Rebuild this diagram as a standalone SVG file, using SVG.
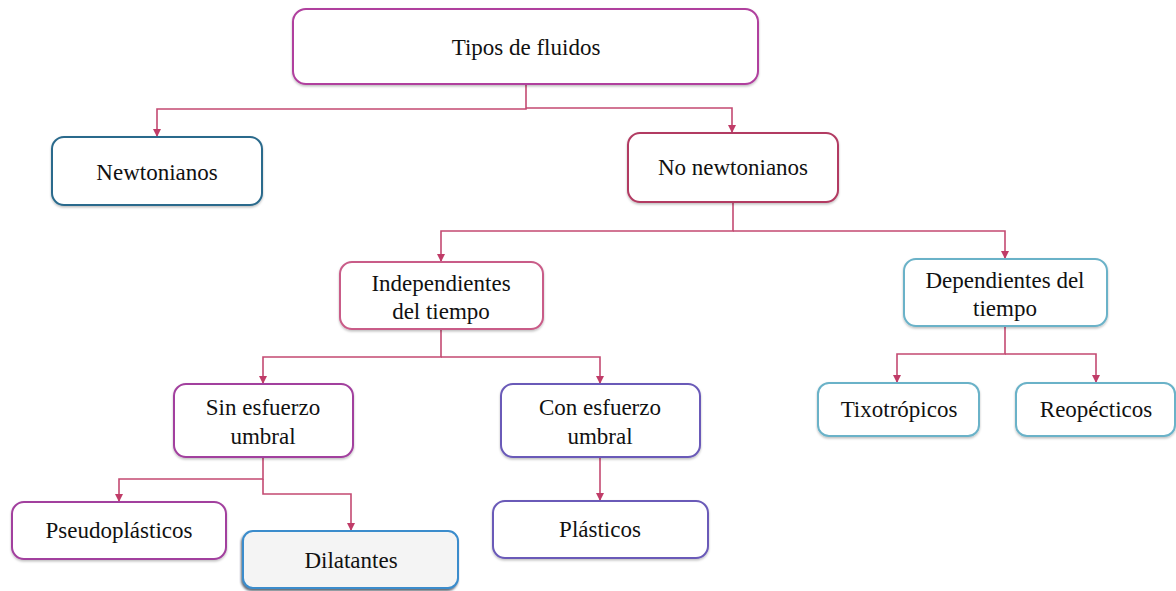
<svg xmlns="http://www.w3.org/2000/svg" width="1176" height="591" viewBox="0 0 1176 591">
<defs>
<marker id="ah" markerWidth="8" markerHeight="8" refX="7" refY="4" orient="auto" markerUnits="userSpaceOnUse">
<path d="M0,0 L8,4 L0,8 Z" fill="#c03c68"/>
</marker>
<filter id="sh" x="-10%" y="-10%" width="120%" height="130%">
<feDropShadow dx="0" dy="1.5" stdDeviation="1.2" flood-color="#000" flood-opacity="0.25"/>
</filter>
<filter id="sh2" x="-10%" y="-10%" width="120%" height="130%">
<feDropShadow dx="-1" dy="2" stdDeviation="1" flood-color="#1a2a3a" flood-opacity="0.7"/>
</filter>
<style>
text{font-family:"Liberation Serif","Times New Roman",serif;font-size:23px;fill:#111;text-anchor:middle}
rect{fill:#fff;stroke-width:2}
.con path{fill:none;stroke:#c44a72;stroke-width:1.6}
.con .a{marker-end:url(#ah)}
</style>
</defs>
<g class="con">
<path d="M526,84 V109 H157 V136" class="a"/>
<path d="M526,108 H732 V132" class="a"/>
<path d="M733,202 V231 H441 V261" class="a"/>
<path d="M733,231 H1005 V258" class="a"/>
<path d="M441,329 V357 H263 V383" class="a"/>
<path d="M441,357 H600 V383" class="a"/>
<path d="M263,457 V479 H119 V501" class="a"/>
<path d="M263,479 V494 H351 V530" class="a"/>
<path d="M600,457 V500" class="a"/>
<path d="M1005,326 V354 H897 V382" class="a"/>
<path d="M1005,354 H1096 V382" class="a"/>
</g>
<g id="tipos"><rect x="293" y="9" width="465" height="75" rx="13" stroke="#b0409e" stroke-width="2.6" filter="url(#sh)"/><text x="526" y="55">Tipos de fluidos</text></g>
<g id="newtonianos"><rect x="52" y="137" width="210" height="68" rx="12" stroke="#2a6a8c" filter="url(#sh)"/><text x="157" y="180">Newtonianos</text></g>
<g id="nonewtonianos"><rect x="628" y="133" width="210" height="69" rx="12" stroke="#b23a62" filter="url(#sh)"/><text x="733" y="175">No newtonianos</text></g>
<g id="independientes"><rect x="340" y="262" width="203" height="67" rx="12" stroke="#c95c88" filter="url(#sh)"/><text x="441" y="291">Independientes</text><text x="441" y="319">del tiempo</text></g>
<g id="dependientes"><rect x="904" y="259" width="203" height="67" rx="12" stroke="#6ab2c8" filter="url(#sh)"/><text x="1005" y="288">Dependientes del</text><text x="1005" y="316">tiempo</text></g>
<g id="sin"><rect x="174" y="384" width="179" height="73" rx="12" stroke="#a2409e" filter="url(#sh)"/><text x="263" y="415">Sin esfuerzo</text><text x="263" y="444">umbral</text></g>
<g id="con"><rect x="501" y="384" width="199" height="73" rx="12" stroke="#6a5ab8" filter="url(#sh)"/><text x="600" y="415">Con esfuerzo</text><text x="600" y="444">umbral</text></g>
<g id="pseudo"><rect x="12" y="502" width="214" height="57" rx="12" stroke="#a2409e" filter="url(#sh)"/><text x="119" y="538">Pseudoplásticos</text></g>
<g id="dilatantes"><rect x="243" y="531" width="215" height="57" rx="10" stroke="#3a8ccc" style="fill:#f4f4f4" filter="url(#sh2)"/><text x="351" y="568">Dilatantes</text></g>
<g id="plasticos"><rect x="493" y="501" width="215" height="57" rx="12" stroke="#6a5ab8" filter="url(#sh)"/><text x="600" y="537">Plásticos</text></g>
<g id="tixo"><rect x="818" y="383" width="161" height="53" rx="11" stroke="#6ab2c8" filter="url(#sh)"/><text x="899" y="417">Tixotrópicos</text></g>
<g id="reop"><rect x="1016" y="383" width="159" height="53" rx="11" stroke="#6ab2c8" filter="url(#sh)"/><text x="1096" y="417">Reopécticos</text></g>
</svg>
